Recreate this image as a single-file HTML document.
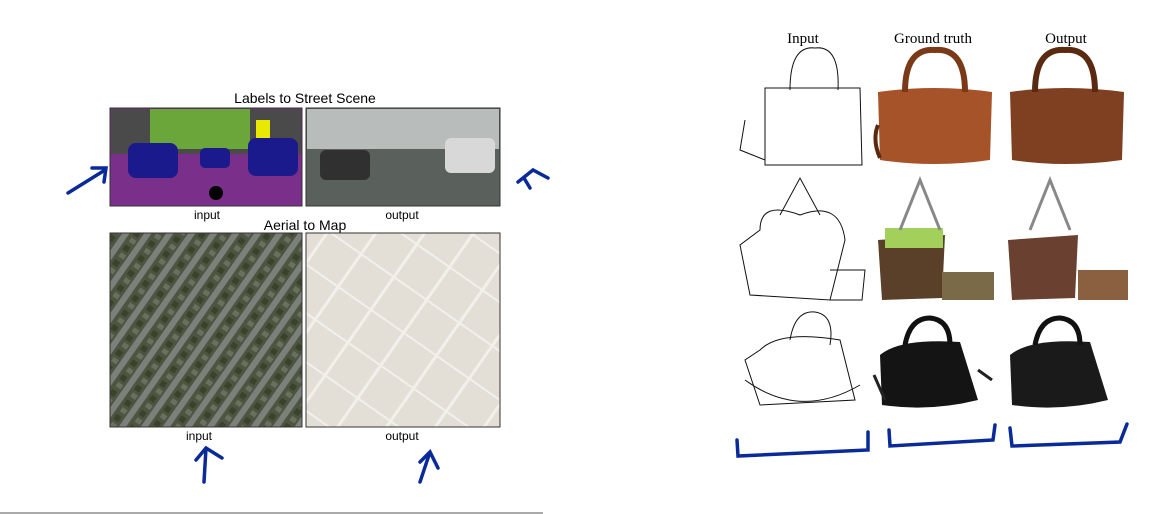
<!DOCTYPE html>
<html><head><meta charset="utf-8"><style>
body{margin:0;background:#fff;width:1164px;height:514px;overflow:hidden;font-family:"Liberation Sans",sans-serif}
svg{position:absolute;left:0;top:0}
</style></head><body>
<svg width="1164" height="514">
<defs>
<pattern id="aerial" width="18" height="18" patternUnits="userSpaceOnUse" patternTransform="rotate(35)">
<rect width="18" height="18" fill="#4d5540"/><rect x="0" y="0" width="6" height="18" fill="#7c807a"/><rect x="9" y="2" width="6" height="6" fill="#39432c"/><rect x="10" y="11" width="6" height="5" fill="#6a7060"/>
</pattern>
<pattern id="map" width="40" height="40" patternUnits="userSpaceOnUse" patternTransform="rotate(35)">
<rect width="40" height="40" fill="#e4dfd6"/><rect x="0" y="0" width="3" height="40" fill="#f2f0eb"/><rect x="0" y="0" width="40" height="2" fill="#f2f0eb"/>
</pattern>
</defs>
<g>
<text x="305" y="103" text-anchor="middle" font-size="14">Labels to Street Scene</text>
<g>
<rect x="110" y="108" width="192" height="98" fill="#7a2f8a" stroke="#333"/>
<rect x="111" y="109" width="190" height="45" fill="#4a4a4a"/>
<rect x="150" y="109" width="100" height="40" fill="#6aa63a"/>
<rect x="256" y="120" width="14" height="20" fill="#e8e800"/>
<rect x="128" y="143" width="50" height="35" rx="8" fill="#1a1a8c"/>
<rect x="200" y="148" width="30" height="20" rx="5" fill="#1a1a8c"/>
<rect x="248" y="138" width="50" height="38" rx="8" fill="#1a1a8c"/>
<circle cx="216" cy="193" r="7" fill="#000"/>
</g>
<g>
<rect x="306" y="108" width="194" height="98" fill="#5a605c" stroke="#333"/>
<rect x="307" y="109" width="192" height="40" fill="#b8bcbb"/>
<rect x="320" y="150" width="50" height="30" rx="6" fill="#303030"/>
<rect x="445" y="138" width="50" height="35" rx="6" fill="#d8d8d8"/>
</g>
<text x="207" y="219" text-anchor="middle" font-size="12">input</text>
<text x="402" y="219" text-anchor="middle" font-size="12">output</text>
</g>
<g>
<text x="305" y="230" text-anchor="middle" font-size="14">Aerial to Map</text>
<rect x="110" y="233" width="192" height="194" fill="url(#aerial)" stroke="#333"/>
<rect x="306" y="233" width="194" height="194" fill="url(#map)" stroke="#333"/>
<text x="199" y="440" text-anchor="middle" font-size="12">input</text>
<text x="402" y="440" text-anchor="middle" font-size="12">output</text>
</g>
<g fill="none" stroke="#0a2a9a" stroke-width="3.5" stroke-linecap="round">
<path d="M68 193 L105 170 M92 168 L106 168 L104 182"/>
<path d="M530 188 L524 178 M518 182 L533 170 L548 178"/>
<path d="M204 482 L206 448 M196 460 L206 448 L222 458"/>
<path d="M420 482 L430 452 M420 462 L430 452 L438 468"/>
<path d="M737 440 L738 456 L868 450 L868 432"/>
<path d="M889 430 L890 446 L993 440 L995 425"/>
<path d="M1010 428 L1012 446 L1120 442 L1127 424"/>
</g>
<line x1="0" y1="513" x2="543" y2="513" stroke="#555"/>
<g font-family="Liberation Serif,serif" font-size="15" text-anchor="middle">
<text x="803" y="43">Input</text>
<text x="933" y="43">Ground truth</text>
<text x="1066" y="43">Output</text>
</g>
<g fill="none" stroke="#111" stroke-width="1">
<path d="M765 88 L860 88 L862 165 L765 165 Z M790 90 Q790 45 815 48 Q840 45 838 90 M745 120 L740 150 L765 160"/>
<path d="M760 230 Q760 200 800 215 Q840 200 845 240 L830 300 L750 295 L740 245 Z M780 215 L800 178 L820 215 M830 270 L865 270 L862 300 L830 300"/>
<path d="M760 350 Q780 330 840 340 L855 400 L760 405 L745 360 Z M790 340 Q795 310 815 312 Q835 315 830 345 M745 380 Q800 420 860 385"/>
</g>
<g>
<path d="M878 92 Q935 84 992 92 L990 160 Q935 168 880 160 Z" fill="#a6532a"/>
<path d="M878 125 Q872 140 880 158" fill="none" stroke="#5a2a10" stroke-width="4"/>
<path d="M905 92 Q905 48 935 50 Q965 48 965 92" fill="none" stroke="#7a3a18" stroke-width="6"/>
<path d="M878 240 L945 235 L942 298 L882 300 Z" fill="#5a4028"/><rect x="885" y="228" width="58" height="20" fill="#a2d05a"/><rect x="942" y="272" width="52" height="28" fill="#7a6a48"/>
<path d="M900 230 L920 180 L940 230" fill="none" stroke="#888" stroke-width="3"/>
<path d="M880 355 Q900 338 960 342 L978 400 Q930 412 882 405 Z" fill="#141414"/>
<path d="M905 345 Q910 318 930 318 Q950 320 950 345" fill="none" stroke="#111" stroke-width="5"/>
<path d="M874 375 L885 400 M978 370 L992 380" stroke="#222" stroke-width="3"/>
</g>
<g>
<path d="M1010 92 Q1065 84 1124 92 L1122 160 Q1065 168 1012 160 Z" fill="#7e4020"/>
<path d="M1035 92 Q1035 48 1065 50 Q1095 48 1095 92" fill="none" stroke="#5a2a10" stroke-width="6"/>
<path d="M1008 240 L1078 235 L1075 298 L1012 300 Z" fill="#6a4030"/><rect x="1078" y="270" width="50" height="30" fill="#8a6040"/>
<path d="M1030 230 L1050 180 L1070 230" fill="none" stroke="#888" stroke-width="3"/>
<path d="M1010 355 Q1030 338 1090 342 L1108 400 Q1060 412 1012 405 Z" fill="#1a1a1a"/>
<path d="M1035 345 Q1040 318 1060 318 Q1080 320 1080 345" fill="none" stroke="#111" stroke-width="5"/>
</g>
</svg>
</body></html>
